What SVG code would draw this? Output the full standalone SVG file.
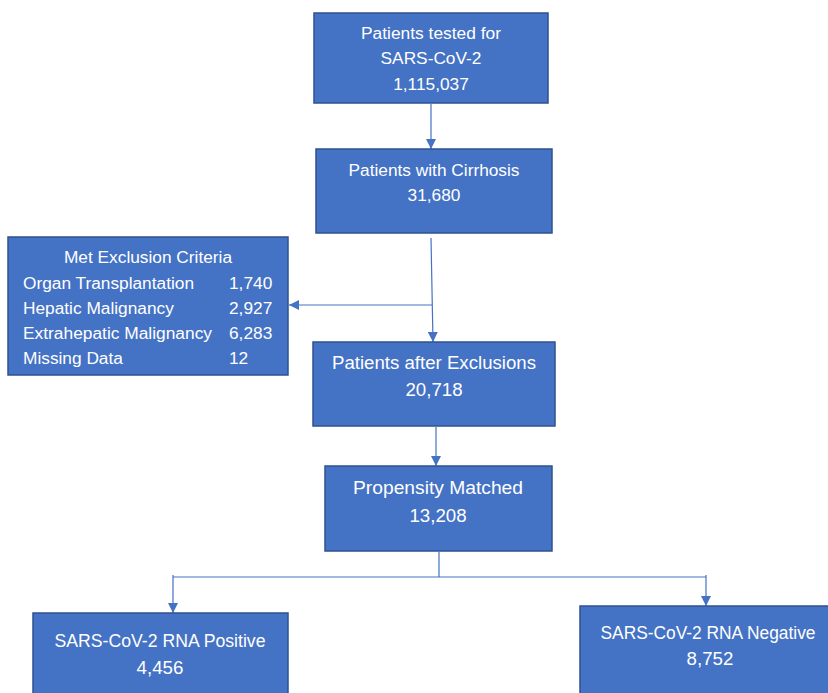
<svg xmlns="http://www.w3.org/2000/svg" width="828" height="693" viewBox="0 0 828 693">
<style>
.box{fill:#4472C4;stroke:#2F528F;stroke-width:1.5}
.t{fill:#fff;font-family:"Liberation Sans",Arial,sans-serif;font-size:17.3px}
.c{text-anchor:middle}
.b{font-size:18.7px}
.ln{stroke:#4472C4;stroke-width:1.2;fill:none}
</style>
<defs>
<marker id="ah" viewBox="0 0 10 10" refX="10" refY="5" markerWidth="10" markerHeight="10" markerUnits="userSpaceOnUse" orient="auto">
<path d="M0,0 L10,5 L0,10 z" fill="#4472C4"/>
</marker>
</defs>
<rect width="828" height="693" fill="#fff"/>
<g id="connectors">
<line class="ln" x1="431" y1="104" x2="431" y2="149" marker-end="url(#ah)"/>
<line class="ln" x1="431" y1="238" x2="433" y2="342" marker-end="url(#ah)"/>
<line class="ln" x1="432" y1="305" x2="289" y2="305" marker-end="url(#ah)"/>
<line class="ln" x1="436" y1="427" x2="436" y2="466" marker-end="url(#ah)"/>
<line class="ln" x1="439" y1="552" x2="439" y2="577"/>
<line class="ln" x1="173" y1="577" x2="706" y2="577"/>
<line class="ln" x1="173" y1="575" x2="173" y2="613" marker-end="url(#ah)"/>
<line class="ln" x1="706" y1="575" x2="706" y2="606" marker-end="url(#ah)"/>
</g>
<g id="n1">
<rect class="box" x="314" y="13" width="234" height="90"/>
<text class="t c" x="431" y="39" textLength="140" lengthAdjust="spacingAndGlyphs">Patients tested for</text>
<text class="t c" x="431" y="64">SARS-CoV-2</text>
<text class="t c" x="431" y="90">1,115,037</text>
</g>
<g id="n2">
<rect class="box" x="316" y="149" width="236" height="84"/>
<text class="t c" x="434" y="176" textLength="171" lengthAdjust="spacingAndGlyphs">Patients with Cirrhosis</text>
<text class="t c" x="434" y="201">31,680</text>
</g>
<g id="n3">
<rect class="box" x="8" y="237" width="280" height="138"/>
<text class="t c" x="148" y="263">Met Exclusion Criteria</text>
<text class="t" x="23" y="289" textLength="171" lengthAdjust="spacingAndGlyphs">Organ Transplantation</text>
<text class="t" x="229" y="289">1,740</text>
<text class="t" x="23" y="314">Hepatic Malignancy</text>
<text class="t" x="229" y="314">2,927</text>
<text class="t" x="23" y="339" textLength="189" lengthAdjust="spacingAndGlyphs">Extrahepatic Malignancy</text>
<text class="t" x="229" y="339">6,283</text>
<text class="t" x="23" y="364">Missing Data</text>
<text class="t" x="229" y="364">12</text>
</g>
<g id="n4">
<rect class="box" x="313" y="342" width="242" height="84"/>
<text class="t c b" x="434" y="369" textLength="204" lengthAdjust="spacingAndGlyphs">Patients after Exclusions</text>
<text class="t c b" x="434" y="396">20,718</text>
</g>
<g id="n5">
<rect class="box" x="325" y="466" width="227" height="85"/>
<text class="t c b" x="438" y="494" textLength="170" lengthAdjust="spacingAndGlyphs">Propensity Matched</text>
<text class="t c b" x="438" y="522">13,208</text>
</g>
<g id="n6">
<rect class="box" x="33" y="613" width="255" height="90"/>
<text class="t c b" x="160" y="647" textLength="211" lengthAdjust="spacingAndGlyphs">SARS-CoV-2 RNA Positive</text>
<text class="t c b" x="160" y="674">4,456</text>
</g>
<g id="n7">
<rect class="box" x="580" y="606" width="260" height="100"/>
<text class="t c b" x="708" y="639" textLength="215" lengthAdjust="spacingAndGlyphs">SARS-CoV-2 RNA Negative</text>
<text class="t c b" x="710" y="665">8,752</text>
</g>
</svg>
